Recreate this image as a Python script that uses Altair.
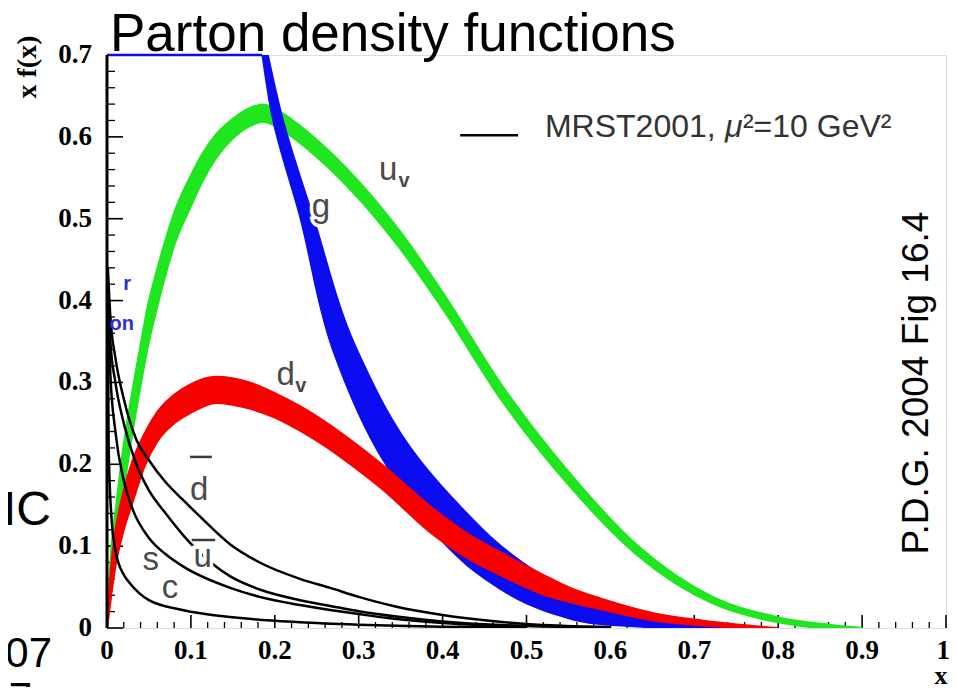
import altair as alt
import pandas as pd

W, H = 839, 573

# ---------------- data ----------------
# u_v band (green): x, lower edge, upper edge
uv_x = [0.0, 0.005, 0.011, 0.019, 0.027, 0.039, 0.048, 0.063, 0.081, 0.10, 0.114, 0.13, 0.15,
        0.17, 0.186, 0.21, 0.23, 0.25, 0.27, 0.30, 0.33, 0.35, 0.40, 0.47, 0.555, 0.632, 0.722,
        0.80, 0.86, 0.90]
uv_hi = [0.0, 0.095, 0.15, 0.217, 0.27, 0.34, 0.39, 0.45, 0.51, 0.553, 0.58, 0.603, 0.622,
         0.635, 0.6395, 0.6285, 0.6135, 0.5965, 0.5775, 0.5455, 0.5095, 0.4835, 0.41, 0.2975,
         0.185, 0.101, 0.038, 0.013, 0.004, 0.0]
uv_lo = [0.0, 0.045, 0.095, 0.16, 0.217, 0.29, 0.34, 0.405, 0.47, 0.515, 0.546, 0.574, 0.598,
         0.613, 0.6185, 0.6075, 0.5925, 0.5755, 0.5565, 0.5245, 0.4885, 0.4625, 0.39, 0.2785,
         0.169, 0.089, 0.030, 0.007, 0.0, 0.0]

# d_v band (red)
dv_x = [0.0, 0.005, 0.01, 0.02, 0.03, 0.045, 0.06, 0.08, 0.10, 0.13, 0.17, 0.20, 0.23, 0.26,
        0.29, 0.33, 0.385, 0.43, 0.47, 0.52, 0.55, 0.59, 0.65, 0.71, 0.76, 0.80]
dv_hi = [0.0, 0.075, 0.118, 0.168, 0.203, 0.238, 0.264, 0.285, 0.298, 0.307, 0.300, 0.287,
         0.271, 0.252, 0.230, 0.198, 0.149, 0.115, 0.092, 0.065, 0.050, 0.0355, 0.0185, 0.009,
         0.0035, 0.0]
dv_lo = [0.0, 0.04, 0.075, 0.12, 0.152, 0.198, 0.228, 0.25, 0.263, 0.275, 0.268, 0.257, 0.241,
         0.222, 0.200, 0.168, 0.117, 0.085, 0.064, 0.041, 0.032, 0.0225, 0.0095, 0.003, 0.0005,
         0.0]

# gluon band (blue): for each level of x f(x), x of the lower and upper curve
g_y = [0.70, 0.624, 0.502, 0.34, 0.205, 0.15, 0.10, 0.07, 0.05, 0.03, 0.015, 0.005, 0.0]
g_x_lo = [0.185, 0.197, 0.230, 0.269, 0.329, 0.365, 0.405, 0.437, 0.465, 0.50, 0.54, 0.585, 0.66]
g_x_hi = [0.192, 0.209, 0.246, 0.298, 0.373, 0.42, 0.47, 0.51, 0.545, 0.59, 0.64, 0.69, 0.75]

# sea quarks (black lines)
dbar_x = [0.001, 0.004, 0.01, 0.02, 0.035, 0.05, 0.07, 0.09, 0.111, 0.147, 0.182, 0.23, 0.266,
          0.30, 0.345, 0.40, 0.45, 0.50, 0.60]
dbar_y = [0.44, 0.38, 0.33, 0.28, 0.23, 0.205, 0.178, 0.157, 0.136, 0.102, 0.080, 0.060, 0.049,
          0.038, 0.026, 0.016, 0.0095, 0.005, 0.0012]
ubar_x = [0.001, 0.004, 0.01, 0.02, 0.035, 0.05, 0.07, 0.099, 0.147, 0.182, 0.23, 0.266, 0.30,
          0.345, 0.40, 0.45, 0.50, 0.60]
ubar_y = [0.42, 0.35, 0.30, 0.25, 0.20, 0.168, 0.14, 0.104, 0.063, 0.047, 0.034, 0.027, 0.0205,
          0.014, 0.008, 0.0045, 0.0025, 0.0006]
s_x = [0.001, 0.004, 0.01, 0.02, 0.031, 0.05, 0.07, 0.091, 0.147, 0.182, 0.23, 0.266, 0.30,
       0.345, 0.40, 0.45, 0.50]
s_y = [0.40, 0.31, 0.24, 0.18, 0.144, 0.11, 0.09, 0.075, 0.049, 0.038, 0.028, 0.022, 0.017,
       0.011, 0.006, 0.003, 0.001]
c_x = [0.001, 0.002, 0.005, 0.01, 0.02, 0.027, 0.05, 0.09, 0.15, 0.23, 0.30, 0.40, 0.50]
c_y = [0.38, 0.22, 0.14, 0.095, 0.065, 0.055, 0.034, 0.022, 0.013, 0.007, 0.004, 0.0015, 0.0005]

# ticks
x_ticks = [0, 0.1, 0.2, 0.3, 0.4, 0.5, 0.6, 0.7, 0.8, 0.9, 1]
y_ticks = [0, 0.1, 0.2, 0.3, 0.4, 0.5, 0.6, 0.7]
x_minor = [i / 50 for i in range(51) if i % 5]
y_minor = [i / 50 for i in range(36) if i % 5]

# curve labels
lab_text = ["u", "g", "d", "d", "u", "s", "c"]
lab_x = [0.335, 0.255, 0.213, 0.110, 0.114, 0.052, 0.075]
lab_y = [0.547, 0.502, 0.297, 0.156, 0.0745, 0.071, 0.037]
sub_text = ["v", "v"]
sub_x = [0.354, 0.231]
sub_y = [0.539, 0.288]
bar_x1 = [0.099, 0.101]
bar_x2 = [0.125, 0.129]
bar_y = [0.209, 0.1075]

# legend
leg_x1, leg_x2, leg_y = 0.421, 0.49, 0.602
leg_tx, leg_ty = 0.522, 0.600

GREEN, RED, BLUE = "#1fe61f", "#f80000", "#0c0cf0"
SERIF, SANS = "Liberation Serif", "Liberation Sans"

xs = alt.Scale(domain=[0, 1], nice=False, zero=False)
ys = alt.Scale(domain=[0, 0.7], nice=False, zero=False)


def X(f, **kw):
    return alt.X(f, scale=xs, axis=None, **kw)


def Y(f, **kw):
    return alt.Y(f, scale=ys, axis=None, **kw)


def ticks_x(vals, length, width):
    return alt.Chart(pd.DataFrame({"v": vals})).mark_rule(color="black", strokeWidth=width).encode(
        x=X("v:Q"), y=alt.value(H), y2=alt.value(H - length))


def ticks_y(vals, length, width):
    return alt.Chart(pd.DataFrame({"v": vals})).mark_rule(color="black", strokeWidth=width).encode(
        y=Y("v:Q"), x=alt.value(0), x2=alt.value(length))


xminor = ticks_x(x_minor, 6, 1.3)
xmajor = ticks_x(x_ticks, 13, 1.6)
yminor = ticks_y(y_minor, 8, 1.3)
ymajor = ticks_y(y_ticks, 16, 1.6)

xlab_df = pd.DataFrame({"v": x_ticks, "t": [f"{v:g}" for v in x_ticks]})
xlabels = alt.Chart(xlab_df.iloc[:-1]).mark_text(
    font=SERIF, fontSize=27, fontWeight="bold", color="black", align="center",
    baseline="alphabetic").encode(x=X("v:Q"), y=alt.value(H + 31), text="t:N")
xlabel_last = alt.Chart(xlab_df.iloc[-1:]).mark_text(
    font=SERIF, fontSize=27, fontWeight="bold", color="black", align="right", dx=4,
    baseline="alphabetic").encode(x=X("v:Q"), y=alt.value(H + 31), text="t:N")
ylabels = alt.Chart(pd.DataFrame({"v": y_ticks, "t": [f"{v:g}" for v in y_ticks]})).mark_text(
    font=SERIF, fontSize=27, fontWeight="bold", color="black", align="right",
    baseline="middle").encode(y=Y("v:Q"), x=alt.value(-15), text="t:N")

green = alt.Chart(pd.DataFrame({"x": uv_x, "lo": uv_lo, "hi": uv_hi})).mark_area(
    orient="vertical", color=GREEN, stroke=GREEN, strokeWidth=2, interpolate="monotone",
    clip=True).encode(x=X("x:Q"), y=Y("lo:Q"), y2="hi:Q")

blue = alt.Chart(pd.DataFrame({"y": g_y, "lo": g_x_lo, "hi": g_x_hi}).sort_values("y")).mark_area(
    orient="horizontal", color=BLUE, stroke=BLUE, strokeWidth=1.5, interpolate="monotone",
    clip=True).encode(y=Y("y:Q"), x=X("lo:Q"), x2="hi:Q")

bluetop = alt.Chart(pd.DataFrame({"a": [0.0], "b": [g_x_lo[0]]})).mark_rule(
    color=BLUE, strokeWidth=2.5).encode(x=X("a:Q"), x2="b:Q", y=alt.value(0))

red = alt.Chart(pd.DataFrame({"x": dv_x, "lo": dv_lo, "hi": dv_hi})).mark_area(
    orient="vertical", color=RED, stroke=RED, strokeWidth=2, interpolate="monotone",
    clip=True).encode(x=X("x:Q"), y=Y("lo:Q"), y2="hi:Q")

rows = []
for name, xx, yy in [("dbar", dbar_x, dbar_y), ("ubar", ubar_x, ubar_y), ("s", s_x, s_y),
                     ("c", c_x, c_y)]:
    rows += [{"name": name, "x": a, "y": b} for a, b in zip(xx, yy)]
lines = alt.Chart(pd.DataFrame(rows)).mark_line(color="black", strokeWidth=2.5,
                                                interpolate="monotone", clip=True).encode(
    x=X("x:Q"), y=Y("y:Q"), detail="name:N")

leftaxis = alt.Chart(pd.DataFrame({"v": [0]})).mark_rule(color="black", strokeWidth=3).encode(
    x=X("v:Q"), y=alt.value(0), y2=alt.value(H))

labdf = pd.DataFrame({"t": lab_text, "x": lab_x, "y": lab_y})
halo = alt.Chart(labdf).mark_text(font=SANS, fontSize=33, color="white", stroke="white",
                                  strokeWidth=7, align="center", baseline="alphabetic").encode(
    x=X("x:Q"), y=Y("y:Q"), text="t:N")
labels = alt.Chart(labdf).mark_text(font=SANS, fontSize=33, color="#4a4a4a", align="center",
                                    baseline="alphabetic").encode(
    x=X("x:Q"), y=Y("y:Q"), text="t:N")
subs = alt.Chart(pd.DataFrame({"t": sub_text, "x": sub_x, "y": sub_y})).mark_text(
    font=SANS, fontSize=20, fontWeight="bold", color="#4a4a4a", align="center",
    baseline="alphabetic").encode(x=X("x:Q"), y=Y("y:Q"), text="t:N")
bars = alt.Chart(pd.DataFrame({"a": bar_x1, "b": bar_x2, "y": bar_y})).mark_rule(
    color="#3a3a3a", strokeWidth=2.5).encode(x=X("a:Q"), x2="b:Q", y=Y("y:Q"))

leg_rule = alt.Chart(pd.DataFrame({"a": [leg_x1], "b": [leg_x2], "y": [leg_y]})).mark_rule(
    color="black", strokeWidth=2.5).encode(x=X("a:Q"), x2="b:Q", y=Y("y:Q"))
legdf = pd.DataFrame({"x": [leg_tx], "y": [leg_ty]})
leg1 = alt.Chart(legdf).mark_text(font=SANS, fontSize=32, color="#333333", align="left",
                                  baseline="alphabetic", text="MRST2001,").encode(
    x=X("x:Q"), y=Y("y:Q"))
leg2 = alt.Chart(legdf).mark_text(font=SANS, fontSize=32, fontStyle="italic", color="#333333",
                                  align="left", baseline="alphabetic", text="\u03bc",
                                  dx=180).encode(x=X("x:Q"), y=Y("y:Q"))
leg3 = alt.Chart(legdf).mark_text(font=SANS, fontSize=32, color="#333333", align="left",
                                  baseline="alphabetic", text="\u00b2=10 GeV\u00b2",
                                  dx=198).encode(x=X("x:Q"), y=Y("y:Q"))


def ptext(txt, px, py, **kw):
    return alt.Chart(pd.DataFrame({"t": [txt]})).mark_text(**kw).encode(
        x=alt.value(px), y=alt.value(py), text="t:N")


title = ptext("Parton density functions", 3, -4, font=SANS, fontSize=53, color="black",
              align="left", baseline="alphabetic")
ytitle = ptext("x f(x)", -79, 12, font=SERIF, fontSize=28, fontWeight="bold", color="black",
               align="center", baseline="middle", angle=270)
xtitle = ptext("x", 834, 629, font=SERIF, fontSize=26, fontWeight="bold", color="black",
               align="center", baseline="alphabetic")
pdg = ptext("P.D.G. 2004 Fig 16.4", 821, 328, font=SANS, fontSize=37, color="black",
            align="center", baseline="alphabetic", angle=270)
m_r = ptext("r", 24, 235, font=SANS, fontSize=20, fontWeight="bold", color="#3030d0",
            align="right", baseline="alphabetic")
m_on = ptext("on", 27, 275, font=SANS, fontSize=20, fontWeight="bold", color="#3030d0",
             align="right", baseline="alphabetic")
m_ic = ptext("IC", -56, 470, font=SANS, fontSize=48, color="black", align="right",
             baseline="alphabetic")
m_07 = ptext("07", -55, 612, font=SANS, fontSize=42, color="black", align="right",
             baseline="alphabetic")
m_7 = ptext("7", -75, 657, font=SANS, fontSize=42, color="black", align="right",
            baseline="alphabetic")

chart = alt.layer(
    xminor, xmajor, yminor, ymajor, xlabels, xlabel_last, ylabels, green, blue, bluetop, red,
    lines, leftaxis, halo, labels, subs, bars, leg_rule, leg1, leg2, leg3, pdg, title, ytitle,
    xtitle, m_r, m_on, m_ic, m_07, m_7
).properties(
    width=W, height=H,
    padding={"left": 99, "top": 47, "right": 4, "bottom": 59},
    autosize=alt.AutoSizeParams(type="none"),
).configure_view(stroke="black", strokeWidth=2.5).configure(background="white")

chart.save("out.html", embed_options={"renderer": "svg", "actions": False})
